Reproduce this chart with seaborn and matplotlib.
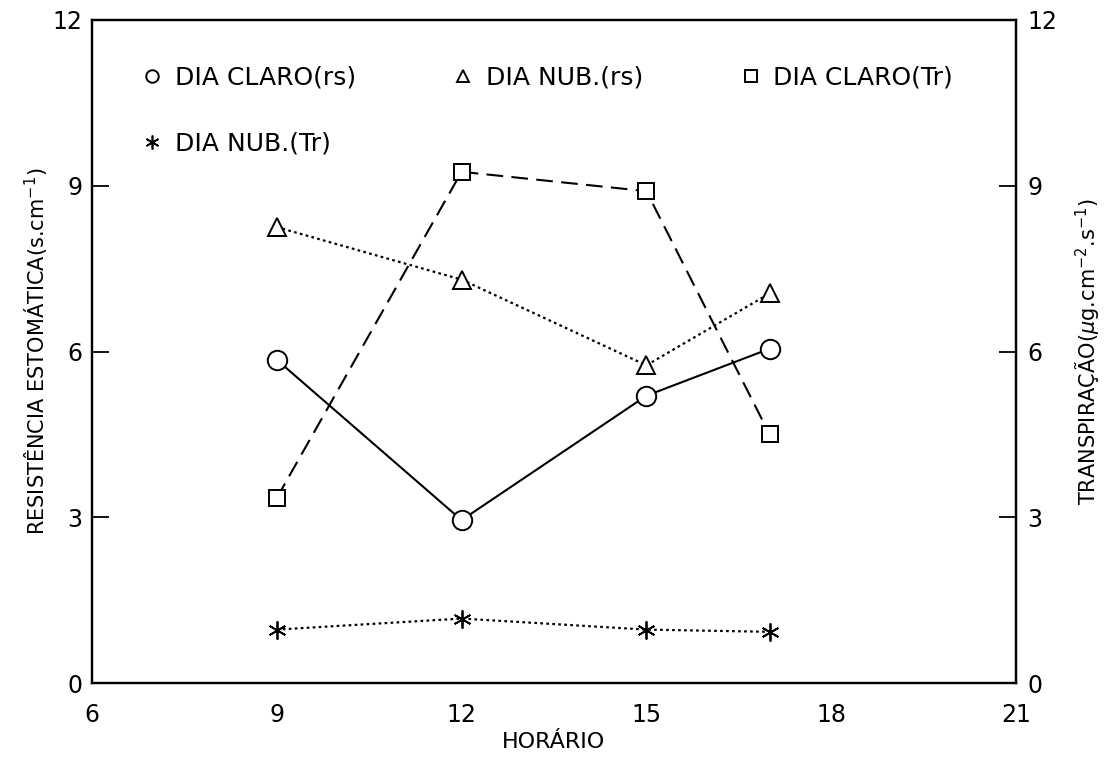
import matplotlib
matplotlib.use("Agg")
import matplotlib.pyplot as plt
from matplotlib.lines import Line2D
import seaborn as sns
import pandas as pd

hours = [9, 12, 15, 17]
rs_claro = [5.85, 2.95, 5.2, 6.05]
rs_nub = [8.25, 7.3, 5.75, 7.05]
tr_claro = [3.35, 9.25, 8.9, 4.5]
tr_nub = [0.97, 1.17, 0.97, 0.93]

labels = ["DIA CLARO(rs)", "DIA NUB.(rs)", "DIA CLARO(Tr)", "DIA NUB.(Tr)"]
xticks = [6, 9, 12, 15, 18, 21]
yticks = [0, 3, 6, 9, 12]

sns.set_style("white")
plt.rcParams['font.family'] = ['DejaVu Sans']
plt.rcParams['mathtext.fontset'] = 'dejavusans'
plt.rcParams['text.color'] = 'black'
plt.rcParams['axes.labelcolor'] = 'black'

fig = plt.figure(figsize=(11.08, 7.6), dpi=100)
ax = fig.add_axes([0.083, 0.101, 0.834, 0.873])
ax2 = ax.twinx()

mk = dict(markerfacecolor='white', markeredgecolor='black', markeredgewidth=1.4)
sns.lineplot(x=hours, y=rs_claro, ax=ax, color='black', lw=1.5, linestyle='-',
             marker='o', markersize=14, **mk)
sns.lineplot(x=hours, y=rs_nub, ax=ax, color='black', lw=1.6, linestyle=(0, (1.2, 1.5)),
             marker='^', markersize=13, **mk)
sns.lineplot(x=hours, y=tr_claro, ax=ax2, color='black', lw=1.5, linestyle=(0, (8, 4)),
             marker='s', markersize=12, **mk)
sns.lineplot(x=hours, y=tr_nub, ax=ax2, color='black', lw=1.6, linestyle=(0, (1.2, 1.5)),
             marker=(6, 2, 0), markersize=13, markeredgecolor='black', markeredgewidth=1.3)

for a in (ax, ax2):
    a.set_xlim(6, 21)
    a.set_ylim(0, 12)
    a.set_yticks(yticks)
    for s in a.spines.values():
        s.set_color('black')
        s.set_linewidth(1.6)
ax.set_xticks(xticks)
ax.set_xticklabels([str(t) for t in xticks])
ax.set_yticklabels([str(t) for t in yticks])
ax2.set_yticklabels([str(t) for t in yticks])

ax.tick_params(axis='x', direction='in', length=12, width=1.3, labelsize=17,
               colors='black', pad=14)
ax.tick_params(axis='y', direction='in', length=12, width=1.3, labelsize=17,
               colors='black', pad=7)
ax2.tick_params(axis='y', direction='in', length=12, width=1.3, labelsize=17,
                colors='black', pad=8)

ax.set_xlabel("HORÁRIO", fontsize=16, labelpad=4)
ax.set_ylabel("RESISTÊNCIA ESTOMÁTICA(s.cm$^{-1}$)", fontsize=15, labelpad=2)
ax2.set_ylabel("TRANSPIRAÇÃO($\\mu$g.cm$^{-2}$.s$^{-1}$)", fontsize=15, labelpad=12)

handles = [
    Line2D([], [], linestyle='none', marker='o', markersize=9, **mk),
    Line2D([], [], linestyle='none', marker='^', markersize=9, **mk),
    Line2D([], [], linestyle='none', marker='s', markersize=8, **mk),
    Line2D([], [], linestyle='none', marker=(6, 2, 0), markersize=10,
           markeredgecolor='black', markeredgewidth=1.2),
]
order = [0, 3, 1, 2]
leg = ax.legend([handles[i] for i in order], [labels[i] for i in order],
                ncol=3, loc='upper left', bbox_to_anchor=(0.03, 0.965),
                frameon=False, fontsize=18, handlelength=0.8, handletextpad=0.5,
                columnspacing=3.9, labelspacing=1.7)
for t in leg.get_texts():
    t.set_color('black')

fig.savefig("out.png", dpi=100, facecolor='white')
